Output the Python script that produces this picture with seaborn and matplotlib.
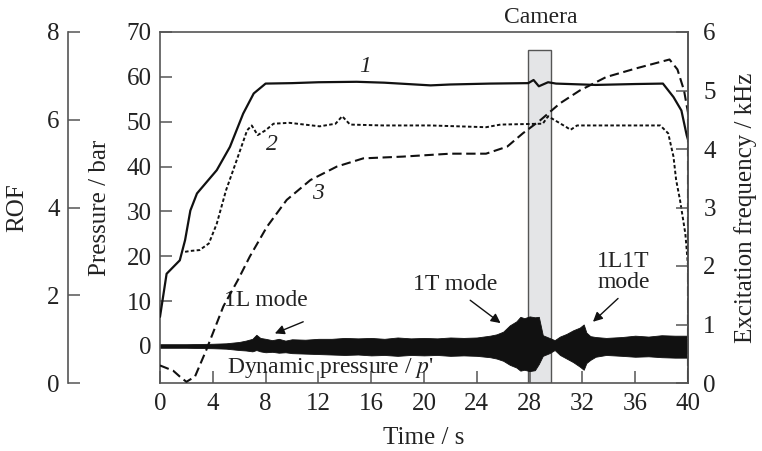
import numpy as np
import matplotlib
matplotlib.use("Agg")
import matplotlib.pyplot as plt
import seaborn as sns

# curve 1: chamber pressure (bar)
t_p = [0, 0.5, 1.5, 1.9, 2.3, 2.8, 3.0, 4.3, 5.3, 6.3, 7.1, 8.0, 10, 12, 14.9, 17, 20.5, 22, 25,
       27.9, 28.3, 28.7, 29.4, 30, 33, 36, 38.1, 38.9, 39.5, 39.9, 40]
pressure = [6.5, 16.1, 19.1, 23.6, 30.2, 34.0, 34.7, 39.2, 44.4, 51.8, 56.3, 58.5, 58.6, 58.8, 58.9,
            58.7, 58.1, 58.3, 58.5, 58.6, 59.3, 57.9, 58.8, 58.5, 58.2, 58.4, 58.5, 55.5, 52.5, 47, 46]

# curve 2: ROF
t_rof = [1.9, 2.3, 3.0, 3.7, 4.3, 5.0, 5.8, 6.6, 6.95, 7.4, 8.0, 8.6, 9.8, 12.1, 13.3, 13.8, 14.4,
         16.9, 20.5, 24.7, 25.8, 29.0, 29.4, 30.8, 31.1, 31.6, 37.9, 38.5, 38.9, 39.1, 39.4, 39.8, 40, 40]
rof = [2.99, 3.01, 3.03, 3.18, 3.63, 4.39, 5.07, 5.76, 5.87, 5.65, 5.76, 5.91, 5.93, 5.85, 5.91, 6.08,
       5.89, 5.87, 5.87, 5.83, 5.89, 5.91, 6.08, 5.83, 5.77, 5.87, 5.87, 5.69, 5.16, 4.63, 4.16, 3.40,
       2.68, 0.0]

# curve 3: excitation frequency (kHz)
t_freq = [0, 1.0, 1.5, 2.0, 2.65, 3.5, 4.8, 5.9, 6.8, 8.1, 9.6, 11.4, 13.4, 15.4, 18.4, 22, 24.7,
          26.3, 27.5, 28.8, 30.3, 31.8, 33.8, 36.1, 38.6, 39.2, 39.7, 40, 40]
freq = [0.30, 0.21, 0.11, 0.02, 0.11, 0.56, 1.31, 1.76, 2.16, 2.67, 3.13, 3.47, 3.70, 3.84, 3.87,
        3.92, 3.92, 4.04, 4.27, 4.49, 4.78, 5.00, 5.23, 5.38, 5.53, 5.36, 5.00, 4.62, 0.0]

# dynamic pressure p' envelope (bar, around zero)
t_env = [0, 2, 4, 5, 6, 6.5, 7, 7.3, 7.6, 8, 8.5, 9, 9.5, 10, 11, 12, 13, 14, 15, 16, 17, 18, 19,
         20, 21, 22, 23, 24, 25, 25.5, 26, 26.5, 27, 27.3, 27.6, 28, 28.4, 28.7, 29, 29.5, 29.9,
         30.3, 30.8, 31.3, 31.8, 32.1, 32.3, 32.6, 33, 33.8, 35, 36, 37, 38, 39, 40]
env_hi = [0.4, 0.4, 0.5, 0.6, 0.9, 1.2, 1.6, 2.5, 1.8, 1.6, 1.3, 1.6, 1.2, 1.5, 1.4, 1.6, 1.6, 1.8,
          1.7, 1.8, 1.6, 1.9, 1.7, 1.8, 1.7, 1.9, 1.8, 1.9, 2.3, 2.6, 3.2, 4.6, 5.5, 6.5, 6.2, 6.6,
          6.4, 6.5, 2.4, 1.8, 1.3, 2.1, 2.7, 3.5, 4.1, 4.8, 3.0, 2.2, 2.0, 1.8, 2.0, 2.3, 2.1, 2.4,
          2.3, 2.3]
env_lo = [-0.4, -0.4, -0.5, -0.6, -0.9, -1.0, -1.2, -0.9, -1.2, -1.4, -1.3, -1.5, -1.4, -1.6, -1.7,
          -1.8, -1.9, -2.0, -1.9, -2.1, -2.0, -2.2, -2.0, -2.1, -2.0, -2.2, -2.1, -2.2, -2.5, -2.8,
          -3.3, -4.2, -4.8, -5.5, -5.3, -5.6, -5.4, -4.0, -2.2, -1.6, -0.9, -2.0, -2.8, -3.6, -4.6,
          -5.3, -3.8, -3.1, -2.4, -2.0, -2.2, -2.4, -2.3, -2.5, -2.6, -2.6]

camera_t = (27.88, 29.6)
camera_top = 65.9

sns.set_theme(style="ticks")
plt.rcParams['font.family'] = ['Liberation Serif', 'DejaVu Serif']
plt.rcParams['mathtext.fontset'] = 'stix'
fs = 17           # annotations
fs_ax = 18        # axis labels and tick labels
spine_c = '#555555'
ink = '#111111'

fig = plt.figure(figsize=(7.62, 4.51), dpi=100)
ax = fig.add_axes([160 / 762, 1 - 383 / 451, 528 / 762, 351 / 451])
ax_rof = ax.twinx()
ax_f = ax.twinx()

p_lo = -8.25
ax.set_xlim(0, 40)
ax.set_ylim(p_lo, 70)
ax_rof.set_ylim(0, 8)
ax_f.set_ylim(0, 6)

# camera window
ax.axvspan(camera_t[0], camera_t[1], ymin=0, ymax=(camera_top - p_lo) / (70 - p_lo),
           facecolor='#e4e5e7', edgecolor=spine_c, lw=1.0, zorder=0)

# dynamic pressure band
ax.fill_between(t_env, env_lo, env_hi, color=ink, lw=0.6, edgecolor=ink, zorder=1)

sns.lineplot(x=t_p, y=pressure, ax=ax, color=ink, lw=1.6, estimator=None, sort=False, zorder=3)
sns.lineplot(x=t_rof, y=rof, ax=ax_rof, color=ink, lw=1.4, linestyle=(0, (1.8, 1.2)),
             estimator=None, sort=False)
sns.lineplot(x=t_freq, y=freq, ax=ax_f, color=ink, lw=1.5, linestyle=(0, (4.5, 2.2)),
             estimator=None, sort=False)

# axes styling
for a in (ax, ax_rof, ax_f):
    for s in a.spines.values():
        s.set_color(spine_c)
        s.set_linewidth(1.2)

ax.set_xticks(np.arange(0, 41, 4))
ax.set_yticks(np.arange(0, 71, 10))
ax.tick_params(axis='both', direction='in', length=8.5, width=1.1, color=spine_c,
               labelsize=fs_ax, labelcolor='#222222')
ax.tick_params(axis='y', pad=6)
ax.tick_params(axis='x', pad=7)
ax.set_xlabel('Time / s', fontsize=fs_ax, color='#222222')
ax.xaxis.set_label_coords(0.5, -0.125)
ax.set_ylabel('Pressure / bar', fontsize=fs_ax, color='#222222')
ax.yaxis.set_label_coords(-0.093, 0.5)

# ROF axis on the far left
ax_rof.yaxis.tick_left()
ax_rof.yaxis.set_label_position('left')
for k in ('right', 'top', 'bottom'):
    ax_rof.spines[k].set_visible(False)
ax_rof.spines['left'].set_visible(True)
ax_rof.spines['left'].set_position(('outward', 92 * 0.72))
ax_rof.set_yticks([0, 2, 4, 6, 8])
ax_rof.tick_params(axis='y', direction='in', length=8.5, width=1.1, color=spine_c,
                   labelsize=fs_ax, labelcolor='#222222', pad=6)
ax_rof.set_ylabel('ROF', fontsize=fs_ax, color='#222222')
ax_rof.yaxis.set_label_coords(-0.25, 0.5)

# excitation frequency on the right
for k in ('left', 'top', 'bottom'):
    ax_f.spines[k].set_visible(False)
ax_f.set_yticks(np.arange(0, 7, 1))
ax_f.tick_params(axis='y', direction='in', length=8.5, width=1.1, color=spine_c,
                 labelsize=fs_ax, labelcolor='#222222', pad=11)
ax_f.set_ylabel('Excitation frequency / kHz', fontsize=fs_ax, color='#222222')
ax_f.yaxis.set_label_coords(1.088, 0.5)

# annotations
txt = dict(fontsize=fs, color='#222222')
ax.text(15.5, 62.3, '1', style='italic', ha='center', va='center', **txt)
ax.text(8.5, 45.0, '2', style='italic', ha='center', va='center', **txt)
ax.text(12.0, 34.0, '3', style='italic', ha='center', va='center', **txt)
ax.text(28.86, 73.3, 'Camera', ha='center', va='center', clip_on=False, **txt)
ax.text(12.9, -4.9, "Dynamic pressure / $p$'", ha='center', va='center', **txt)

arrow = dict(arrowstyle='-|>', color=ink, lw=1.0, mutation_scale=14, shrinkA=0, shrinkB=0)
ax.annotate('1L mode', xy=(8.7, 2.8), xytext=(8.0, 10.2), ha='center', va='center', **txt)
ax.annotate('', xy=(8.7, 2.8), xytext=(10.85, 5.4), arrowprops=arrow)
ax.annotate('1T mode', xy=(25.8, 5.1), xytext=(22.35, 13.6), ha='center', va='center', **txt)
ax.annotate('', xy=(25.8, 5.1), xytext=(23.5, 10.2), arrowprops=arrow)
ax.text(35.1, 16.5, '1L1T\nmode', ha='center', va='center', linespacing=0.95, **txt)
ax.annotate('', xy=(32.8, 5.4), xytext=(34.7, 10.6), arrowprops=arrow)

ax.set_zorder(0)
ax_rof.set_zorder(1)
ax_f.set_zorder(2)

fig.savefig('out.png', dpi=100)
